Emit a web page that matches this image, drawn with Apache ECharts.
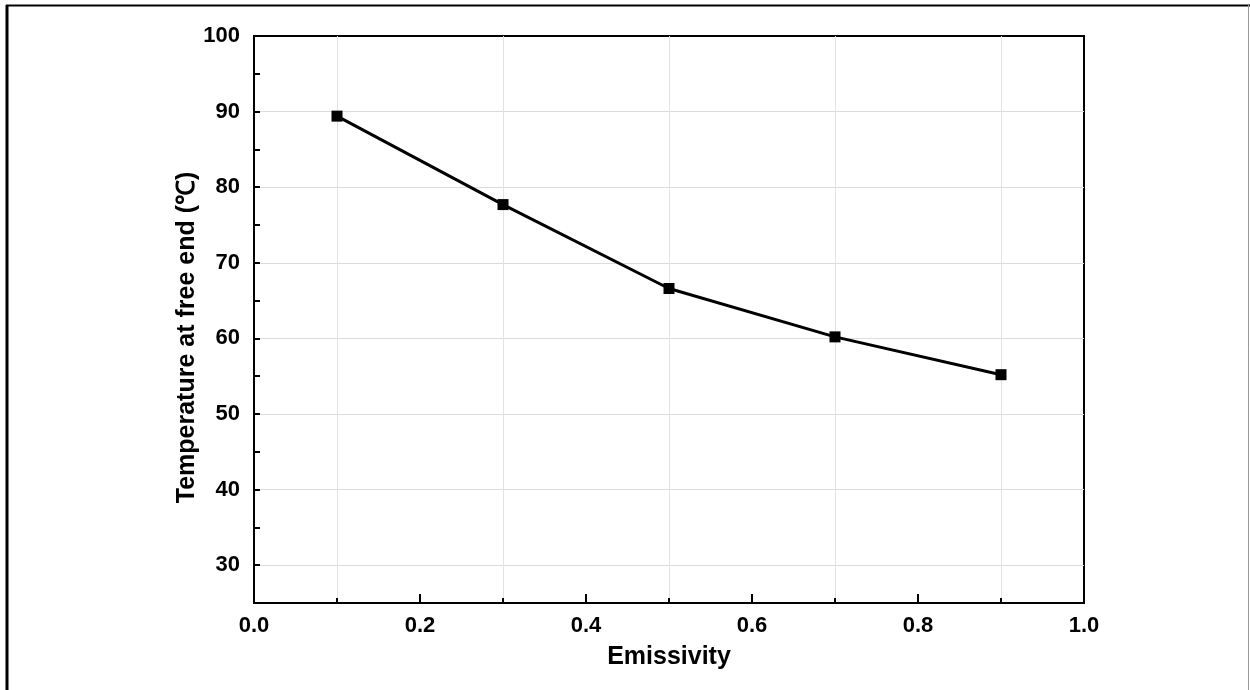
<!DOCTYPE html>
<html><head><meta charset="utf-8">
<script src="https://cdn.jsdelivr.net/npm/echarts@6/dist/echarts.min.js"></script>
<style>html,body{margin:0;padding:0;background:#fff}#c{width:1250px;height:690px}</style>
</head><body><div id="c"></div>
<script>
const emissivity = [0.1, 0.3, 0.5, 0.7, 0.9];
const temperature = [89.4, 77.7, 66.6, 60.2, 55.2];
const yGridValues = [30, 40, 50, 60, 70, 80, 90];
const xTitle = 'Emissivity';
const yTitle = 'Temperature at free end (℃)';

const chart = echarts.init(document.getElementById('c'));
const font = 'Liberation Sans, Arial, sans-serif';
chart.setOption({
  animation: false,
  backgroundColor: '#fff',
  graphic: [
    {type: 'line', shape: {x1: 7, y1: 5, x2: 7, y2: 690}, style: {stroke: '#000', lineWidth: 3}},
    {type: 'line', shape: {x1: 6, y1: 5.5, x2: 1250, y2: 5.5}, style: {stroke: '#000', lineWidth: 2}},
    {type: 'line', shape: {x1: 1248.5, y1: 5, x2: 1248.5, y2: 690}, style: {stroke: '#999', lineWidth: 1}}
  ],
  grid: {left: 254, right: 166, top: 36, bottom: 87, show: true, borderColor: '#000', borderWidth: 2, backgroundColor: 'transparent'},
  xAxis: {
    type: 'value', min: 0, max: 1, interval: 0.2,
    name: xTitle, nameLocation: 'middle', nameGap: 42,
    nameTextStyle: {fontFamily: font, fontWeight: 'bold', fontSize: 25, color: '#000'},
    axisLine: {show: true, onZero: false, lineStyle: {color: '#000', width: 2}},
    axisTick: {show: true, inside: true, length: 9, lineStyle: {color: '#000', width: 2}},
    minorTick: {show: true, splitNumber: 2, length: 5, lineStyle: {color: '#000', width: 2}},
    splitLine: {show: false},
    minorSplitLine: {show: true, lineStyle: {color: '#e2e2e2', width: 1}},
    axisLabel: {fontFamily: font, fontWeight: 'bold', fontSize: 22, color: '#000', margin: 12, formatter: v => v.toFixed(1)}
  },
  yAxis: [{
    type: 'value', min: 25, max: 100, interval: 5,
    name: yTitle, nameLocation: 'middle', nameGap: 54, nameRotate: 90, nameMoveOverlap: false,
    nameTextStyle: {fontFamily: font, fontWeight: 'bold', fontSize: 25, color: '#000', padding: [0, 36, 0, 0]},
    axisLine: {show: true, onZero: false, lineStyle: {color: '#000', width: 2}},
    axisTick: {show: true, inside: true, length: 6, lineStyle: {color: '#000', width: 2}},
    splitLine: {show: false},
    axisLabel: {fontFamily: font, fontWeight: 'bold', fontSize: 22, color: '#000', margin: 14,
      formatter: v => (v % 10 === 0 ? String(v) : '')}
  }, {
    type: 'value', min: 25, max: 100, position: 'left', z: 0,
    axisLine: {show: false}, axisLabel: {show: false},
    axisTick: {show: false, customValues: yGridValues},
    splitLine: {show: true, lineStyle: {color: '#dcdcdc', width: 1}}
  }],
  series: [{
    type: 'line', data: emissivity.map((x, i) => [x, temperature[i]]),
    symbol: 'rect', symbolSize: 11,
    lineStyle: {color: '#000', width: 3},
    itemStyle: {color: '#000'}
  }]
});
</script></body></html>
